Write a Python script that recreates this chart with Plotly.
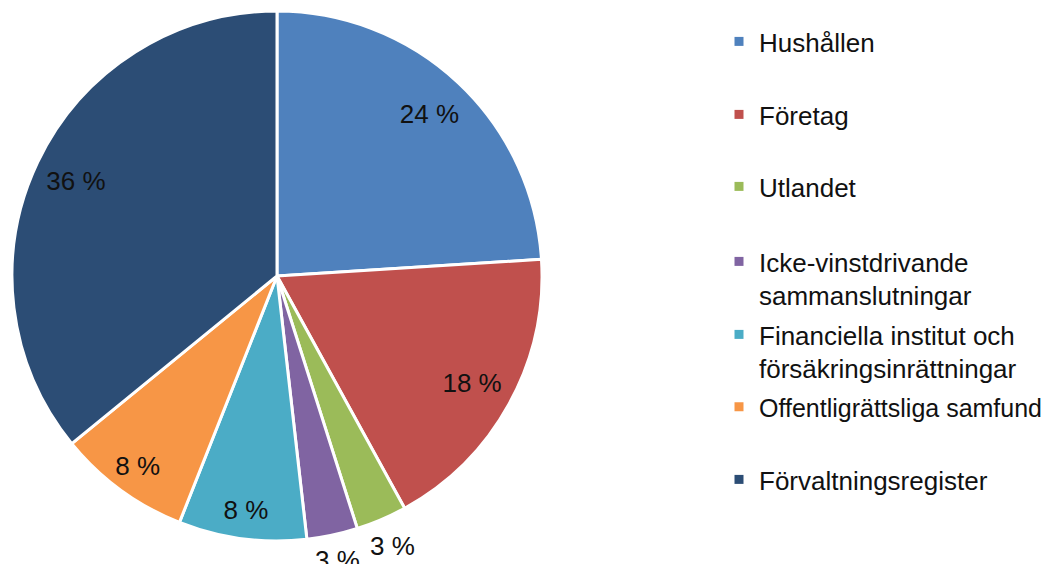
import math
import plotly.graph_objects as go

labels = ["Hushållen", "Företag", "Utlandet",
          "Icke-vinstdrivande<br>sammanslutningar",
          "Financiella institut och<br>försäkringsinrättningar",
          "Offentligrättsliga samfund", "Förvaltningsregister"]
values = [24.0, 18.0, 3.1, 3.1, 7.8, 8.1, 35.9]
colors = ["#4F81BD", "#C0504D", "#9BBB59", "#8064A2", "#4BACC6", "#F79646", "#2C4D75"]
legend_centers_px = [43, 116, 188, 263, 336, 409, 481]

W, H = 1054, 564
OFF = 8  # the page body margin shifts the figure by 8 px
FONT = "Liberation Sans, Arial, sans-serif"
TXT = "#111111"
text = [f"{round(v)} %" for v in values]

# pie geometry (figure pixels)
PX0, PX1, PY0, PY1 = 12 - OFF, 542 - OFF, 11 - OFF, 541 - OFF
dom = dict(x=[PX0 / W, PX1 / W], y=[1 - PY1 / H, 1 - PY0 / H])
plain = [l.replace("<br>", " ") for l in labels]

fig = go.Figure()
fig.add_trace(go.Pie(
    labels=plain, values=values, sort=False, direction="clockwise", rotation=0,
    marker=dict(colors=colors, line=dict(color="white", width=3)),
    textinfo="none", domain=dom, showlegend=False,
    hoverinfo="label+percent",
))

# transparent rings carrying the inside labels (place them toward the rim)
def label_ring(hole, keep):
    fig.add_trace(go.Pie(
        labels=plain, values=values, sort=False, direction="clockwise", rotation=0,
        hole=hole,
        marker=dict(colors=["rgba(0,0,0,0)"] * len(values), line=dict(width=0)),
        text=[(t if keep(v) else "") for v, t in zip(values, text)],
        textinfo="text", textposition="inside", insidetextorientation="horizontal",
        textfont=dict(family=FONT, size=26, color=TXT),
        domain=dom, showlegend=False, hoverinfo="skip",
    ))

label_ring(0.68, lambda v: v >= 15)
label_ring(0.78, lambda v: 5 <= v < 15)

# outside labels for the small slices, placed along each slice's mid-angle
cx, cy, R = (PX0 + PX1) / 2, (PY0 + PY1) / 2, (PX1 - PX0) / 2
total = sum(values)
cum = 0.0
for v, t in zip(values, text):
    mid = (cum + v / 2) / total * 2 * math.pi
    cum += v
    if v >= 5:
        continue
    dx, dy = math.sin(mid), -math.cos(mid)
    off = abs(dx) * 25 + abs(dy) * 11 + 9
    x = cx + (R + off) * dx
    y = cy + (R + off) * dy
    fig.add_annotation(x=x / W, y=1 - y / H, xref="paper", yref="paper",
                       text=t, showarrow=False, xanchor="center", yanchor="middle",
                       font=dict(family=FONT, size=26, color=TXT))

layout_legends = {}
for i, (lab, col, cyl) in enumerate(zip(labels, colors, legend_centers_px)):
    key = "legend" if i == 0 else f"legend{i + 1}"
    fig.add_trace(go.Scatter(
        x=[None], y=[None], mode="markers", name=lab,
        marker=dict(symbol="square", size=9, color=col),
        legend=key, showlegend=True, hoverinfo="skip",
    ))
    fsize = 25 if len(lab) > 24 and "<br>" not in lab else 26
    layout_legends[key] = dict(
        x=711 / W, xanchor="left",
        y=1 - (cyl - OFF - 25) / H, yanchor="top",
        valign="top", itemwidth=30,
        font=dict(family=FONT, size=fsize, color=TXT),
        bgcolor="rgba(0,0,0,0)", borderwidth=0,
    )

fig.update_layout(
    width=W, height=H,
    margin=dict(l=0, r=0, t=0, b=0, autoexpand=False),
    paper_bgcolor="white", plot_bgcolor="white",
    xaxis=dict(visible=False), yaxis=dict(visible=False),
    font=dict(family=FONT, color=TXT),
    **layout_legends,
)

fig.write_html("out.html")
